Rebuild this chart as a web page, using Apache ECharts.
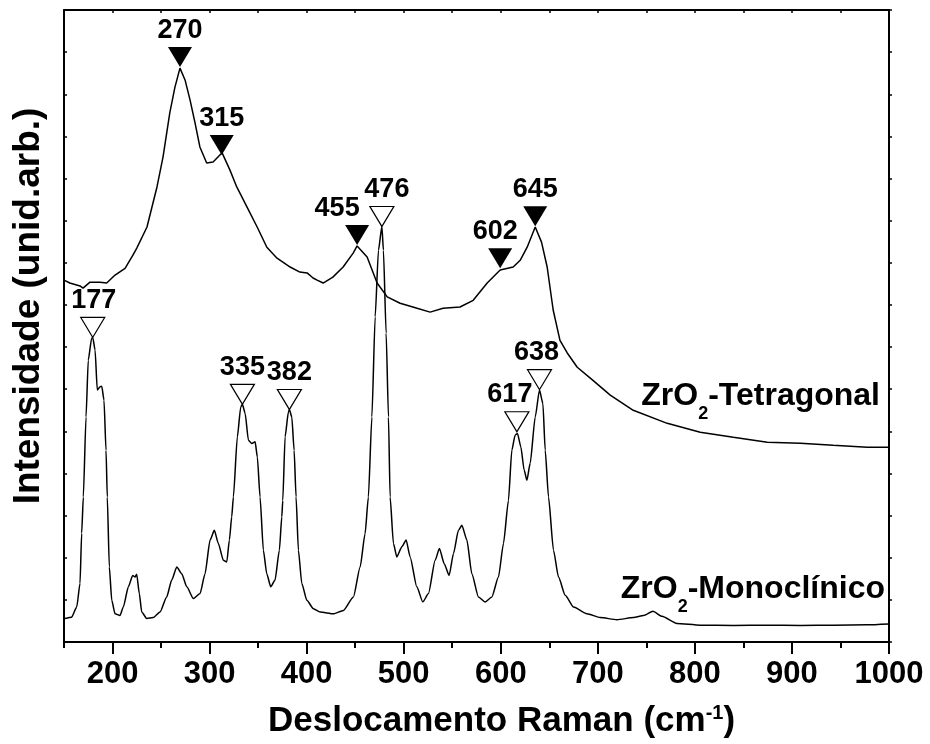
<!DOCTYPE html>
<html>
<head>
<meta charset="utf-8">
<script src="https://cdn.jsdelivr.net/npm/echarts@6/dist/echarts.min.js"></script>
<style>
html,body{margin:0;padding:0;background:#fff;}
#chart{width:930px;height:744px;}
</style>
</head>
<body>
<div id="chart"></div>
<script>
// ---------- DATA ----------
const tetraX = [150,156,166.5,169.6,176.8,187,194,202.6,212.9,221,225,235.5,245.8,252,259,264.3,269.5,274.7,279.9,285,290,297,303.6,312.9,321,328,338.6,349,359,369.5,383,393,400.5,406.6,410.8,417,427,437.6,447.9,452,462.3,472.6,483,496.3,513.8,527.2,540.6,558,571.6,586,596.3,599.4,612.8,620,627.2,635.5,642,647.8,654,661,668.5,678.8,695,712.8,736.5,771.5,805.5,839.6,874.6,908.6,942.6,977.7,1000];
const tetraY = [8.59,8.52,8.45,8.40,8.54,8.54,8.52,8.71,8.87,9.18,9.35,9.85,10.80,11.51,12.56,13.17,13.62,13.34,12.86,12.32,11.75,11.37,11.39,11.61,11.20,10.80,10.32,9.85,9.37,9.11,8.90,8.78,8.76,8.64,8.59,8.52,8.66,8.90,9.23,9.40,9.14,8.52,8.19,8.04,7.92,7.83,7.92,7.95,8.11,8.52,8.76,8.83,8.90,9.06,9.37,9.85,9.49,8.90,7.88,7.16,6.86,6.52,6.21,5.86,5.50,5.19,4.98,4.86,4.74,4.72,4.67,4.62,4.62];

const monoX = [151,157.9,163.1,166.5,168.2,169.9,172.7,175,178.5,179.6,182,184.3,187.1,188.9,191.2,193.3,194.6,196.7,199.2,202.6,207.7,211.1,216.3,220.8,223.2,224.9,227.6,230.1,235.2,242,248.9,255.8,261,266.2,271.3,276.5,283.3,290.2,295.3,300.5,304.9,309,314.2,317.7,320.4,322.8,324.5,328.6,332.1,333.8,336.6,340,343.5,346.9,349.2,352,355.4,358.9,363,367.4,371.9,374.4,375.4,377.8,381.2,382.2,384.7,387.1,389.1,391.5,395,400.2,407,413.9,427.6,437.9,448.2,455.1,460.2,463.6,467.2,470.6,474,477.5,479.1,481.9,484.3,486,489.4,492.9,498.1,502.5,506.6,513.5,519.7,525.5,532.4,536.8,541.7,546.8,551.3,556.4,559.9,565.1,570.2,577,583.9,590.8,597.6,602.8,607.9,611.4,614.8,617.2,620.7,624.1,626.9,630.3,635.5,639.9,643.4,645.8,649.2,654.3,659.5,666.4,675,688.7,702.5,719.7,736.8,747.1,756.8,766.1,781.5,805.5,839.9,874.3,908.6,943,977.4,1000];
const monoY = [0.56,0.59,0.83,1.39,2.58,3.44,5.34,6.69,7.21,7.23,6.93,5.98,6.06,6.07,5.74,4.55,3.44,1.78,0.99,0.67,0.63,0.83,1.31,1.58,1.54,1.61,1.15,0.71,0.56,0.58,0.71,1.07,1.47,1.78,1.62,1.31,1.03,1.15,1.62,2.42,2.65,2.34,1.94,1.90,2.42,2.97,3.44,4.87,5.58,5.64,5.43,4.79,4.71,4.75,4.39,3.44,2.18,1.62,1.31,1.47,2.18,2.97,3.36,4.87,5.46,5.52,5.34,4.55,3.44,2.18,1.39,0.99,0.79,0.71,0.67,0.75,1.07,1.78,2.57,3.44,5.34,7.72,9.30,9.86,9.30,7.33,5.34,3.44,2.34,2.02,2.26,2.42,2.02,1.31,0.95,1.15,1.94,2.22,1.86,1.58,2.10,2.65,2.77,2.42,1.62,1.07,0.95,1.07,1.54,2.34,3.36,4.55,4.91,4.95,4.63,4.08,3.84,4.24,5.34,5.98,5.66,4.55,3.44,2.18,1.54,1.11,0.83,0.67,0.58,0.53,0.58,0.63,0.73,0.61,0.44,0.40,0.39,0.40,0.39,0.40,0.41,0.43];

// peak markers (tip of the triangle at x, y)
const tetraPeakLabels = ['270','315','455','602','645'];
const tetraPeakX = [269.5,312.5,452,599.4,635.5];
const tetraPeakY = [13.65,11.56,9.42,8.87,9.87];
const monoPeakLabels = ['177','335','382','476','617','638'];
const monoPeakX = [179.6,333.8,382.2,477.5,616.6,639.9];
const monoPeakY = [7.23,5.64,5.52,9.86,4.99,5.99];

const xTickLabels = [200,300,400,500,600,700,800,900,1000];

// ---------- STYLE ----------
const FONT = '"Liberation Sans", Arial, Helvetica, sans-serif';
const labelNudge = {'455': -20, '476': 5, '617': -7, '602': -5, '638': -3, '177': 1};

function pairs(xs, ys) { return xs.map((x, i) => [x, ys[i]]); }
function peakData(labels, xs, ys) {
  return labels.map((l, i) => ({
    name: l, value: [xs[i], ys[i]],
    label: { offset: [labelNudge[l] || 0, 0] }
  }));
}

const chart = echarts.init(document.getElementById('chart'), null, {renderer: 'canvas'});
const axisLineStyle = { color: '#000', width: 2 };
const TRI = 'path://M0,0L24,0L12,20Z';

const peakLabel = {
  show: true, position: 'top', distance: 3, formatter: '{b}',
  color: '#000', opacity: 1, fontFamily: FONT, fontWeight: 'bold', fontSize: 27
};

chart.setOption({
  animation: false,
  backgroundColor: '#fff',
  grid: { left: 64, right: 41, top: 10, bottom: 102, containLabel: false },
  xAxis: [
    { type: 'value', min: 150, max: 1000, interval: 50, position: 'bottom',
      axisLine: { show: true, onZero: false, lineStyle: axisLineStyle },
      axisTick: { show: true, length: 6, lineStyle: { color: '#000', width: 2 } },
      axisLabel: { show: false }, splitLine: { show: false } },
    { type: 'value', min: 150, max: 1000, position: 'bottom',
      axisLine: { show: false, onZero: false },
      axisTick: { show: true, length: 12, customValues: xTickLabels, lineStyle: { color: '#000', width: 2 } },
      axisLabel: { show: true, customValues: xTickLabels, margin: 17, color: '#000',
                   fontFamily: FONT, fontWeight: 'bold', fontSize: 31,
                   formatter: v => String(v) },
      splitLine: { show: false } },
    { type: 'value', min: 150, max: 1000, interval: 50, position: 'top',
      axisLine: { show: true, onZero: false, lineStyle: axisLineStyle },
      axisTick: { show: true, inside: true, length: 3, lineStyle: { color: '#000', width: 1.5 } },
      axisLabel: { show: false }, splitLine: { show: false } }
  ],
  yAxis: [
    { type: 'value', min: 0, max: 15, interval: 1, position: 'left',
      axisLine: { show: true, onZero: false, lineStyle: axisLineStyle },
      axisTick: { show: true, inside: true, length: 3, lineStyle: { color: '#000', width: 1.5 } },
      axisLabel: { show: false }, splitLine: { show: false } },
    { type: 'value', min: 0, max: 15, interval: 1, position: 'right',
      axisLine: { show: true, onZero: false, lineStyle: axisLineStyle },
      axisTick: { show: true, inside: false, length: 3, lineStyle: { color: '#000', width: 1.5 } },
      axisLabel: { show: false }, splitLine: { show: false } }
  ],
  series: [
    { name: 'ZrO2-Monoclínico', type: 'line', xAxisIndex: 0, yAxisIndex: 0,
      data: pairs(monoX, monoY), showSymbol: false, smooth: 0.2, smoothMonotone: 'x',
      lineStyle: { color: '#000', width: 1.5 }, z: 2 },
    { name: 'ZrO2-Tetragonal', type: 'line', xAxisIndex: 0, yAxisIndex: 0,
      data: pairs(tetraX, tetraY), showSymbol: false,
      lineStyle: { color: '#000', width: 1.5 }, z: 3 },
    { name: 'Tetragonal peaks', type: 'scatter', xAxisIndex: 0, yAxisIndex: 0,
      data: peakData(tetraPeakLabels, tetraPeakX, tetraPeakY),
      symbol: TRI, symbolSize: [24, 20], symbolOffset: [0, '-50%'],
      itemStyle: { color: '#000', opacity: 1 }, label: peakLabel, z: 5 },
    { name: 'Monoclinic peaks', type: 'scatter', xAxisIndex: 0, yAxisIndex: 0,
      data: peakData(monoPeakLabels, monoPeakX, monoPeakY),
      symbol: TRI, symbolSize: [24, 20], symbolOffset: [0, '-50%'],
      itemStyle: { color: '#fff', borderColor: '#000', borderWidth: 1.2, opacity: 1 }, label: peakLabel, z: 5 }
  ]
});

// ---------- TEXT (titles and curve names) ----------
const mctx = document.createElement('canvas').getContext('2d');
function measure(t, size) { mctx.font = 'bold ' + size + 'px ' + FONT; return mctx.measureText(t).width; }
// pieces: [{t, size, dy}] ; baseline at by ; align 'left' | 'right'
function richLine(pieces, ax, by, align) {
  const widths = pieces.map(p => measure(p.t, p.size));
  const total = widths.reduce((a, b) => a + b, 0);
  let x = align === 'right' ? ax - total : ax;
  const els = [];
  pieces.forEach((p, i) => {
    els.push({ type: 'text', x: x, y: by + (p.dy || 0) - 0.35 * p.size, silent: true,
      style: { text: p.t, fill: '#000', font: 'bold ' + p.size + 'px ' + FONT,
               textAlign: 'left', textVerticalAlign: 'middle' } });
    x += widths[i];
  });
  return els;
}

const graphics = []
  .concat(richLine([{t: 'Deslocamento Raman (cm', size: 35}, {t: '-1', size: 20, dy: -14}, {t: ')', size: 35}], 268, 734, 'left'))
  .concat(richLine([{t: 'ZrO', size: 32}, {t: '2', size: 18, dy: 13}, {t: '-Tetragonal', size: 32}], 880, 407, 'right'))
  .concat(richLine([{t: 'ZrO', size: 32}, {t: '2', size: 18, dy: 13}, {t: '-Monoclínico', size: 32}], 885, 600, 'right'));
graphics.push({ type: 'text', x: 29, y: 306, rotation: Math.PI / 2, silent: true,
  style: { text: 'Intensidade (unid.arb.)', fill: '#000', font: 'bold 37px ' + FONT,
           textAlign: 'center', textVerticalAlign: 'middle' } });

chart.setOption({ graphic: graphics });
</script>
</body>
</html>
